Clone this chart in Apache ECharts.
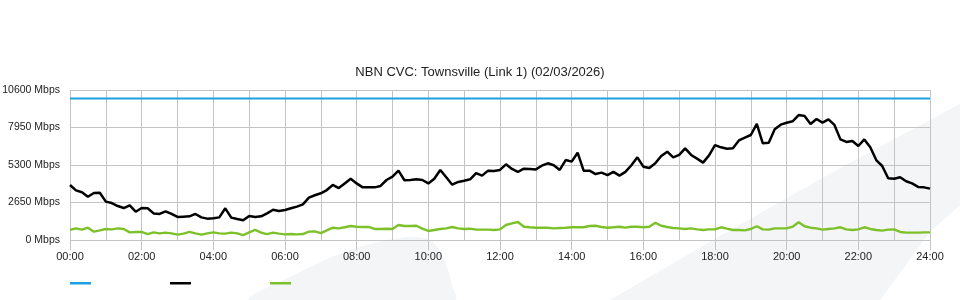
<!DOCTYPE html>
<html>
<head>
<meta charset="utf-8">
<script src="https://cdn.jsdelivr.net/npm/echarts@6/dist/echarts.min.js"></script>
<style>html,body{margin:0;padding:0;background:#fff}#c{width:960px;height:300px}</style>
</head>
<body>
<div id="c"></div>
<script>
// 10-minute samples, 00:00 .. 24:00
const times = [];
for (let m = 0; m <= 1440; m += 10) {
  times.push(String(Math.floor(m / 60)).padStart(2, '0') + ':' + String(m % 60).padStart(2, '0'));
}
const yTicks = [0, 2650, 5300, 7950, 10600];
const capacity = 10000; // Mbps

const download = [
  3890,3510,3370,3060,3320,3340,2710,2610,2400,2260,2450,2000,
  2260,2240,1880,1840,2030,1840,1630,1650,1670,1840,1600,1510,
  1530,1600,2240,1580,1480,1390,1700,1630,1670,1880,2140,2050,
  2120,2240,2360,2520,2990,3160,3300,3530,3890,3670,4000,4330,
  4000,3720,3720,3720,3820,4240,4480,4900,4220,4240,4290,4240,
  4000,4330,4950,4430,3910,4100,4190,4290,4730,4550,4900,4880,
  4950,5350,5020,4810,5040,5020,4990,5250,5420,5280,4950,5650,
  5540,6170,4900,4900,4660,4760,4590,4810,4550,4810,5280,5840,
  5180,5090,5420,5940,6240,5840,6010,6480,6010,5750,5470,5980,
  6710,6550,6450,6480,7040,7230,7420,8200,6830,6880,7820,8150,
  8290,8390,8830,8760,8200,8550,8290,8530,8130,7110,6930,7000,
  6640,7110,6550,5650,5230,4360,4330,4430,4150,4000,3750,3720,
  3630
];
const upload = [
  710,820,730,870,590,680,780,750,820,780,540,570,
  570,420,540,470,520,470,380,450,570,470,380,470,
  540,470,450,520,470,350,540,710,520,420,520,450,
  400,420,400,420,590,610,490,680,870,820,900,990,
  940,920,920,780,780,800,780,1060,990,990,1010,800,
  640,710,780,820,920,820,780,800,730,730,730,710,
  750,1060,1180,1270,940,900,870,870,870,820,850,870,
  900,900,900,990,1010,920,870,900,940,870,940,940,
  900,940,1220,1010,920,850,820,780,820,750,710,750,
  750,900,800,710,710,680,780,970,750,730,820,820,
  820,940,1250,970,870,820,730,780,820,900,750,710,
  750,900,780,710,660,730,750,570,520,520,520,540,
  540
];

const chart = echarts.init(document.getElementById('c'), null, {renderer: 'canvas'});
const gridColor = '#c4c4c4';
const font = 'Liberation Sans, Arial, sans-serif';

chart.setOption({
  animation: false,
  backgroundColor: '#fff',
  textStyle: {fontFamily: font},
  title: {
    text: 'NBN CVC: Townsville (Link 1) (02/03/2026)',
    left: 'center',
    top: 61,
    textStyle: {fontSize: 13, fontWeight: 'normal', color: '#222', fontFamily: font}
  },
  graphic: [
    {
      type: 'polygon', z: -10, silent: true,
      shape: {points: [[610,300],[720,236],[840,168],[960,104],[960,205],[930,232],[880,300]]},
      style: {fill: '#f4f5f7'}
    },
    {
      type: 'polygon', z: -10, silent: true,
      shape: {points: [[250,300],[300,272],[350,250],[400,238],[430,240],[445,262],[452,285],[455,300]], smooth: 0.3},
      style: {fill: '#f4f5f7'}
    }
  ],
  legend: {
    left: 70, top: 282, padding: 0,
    icon: 'rect', itemWidth: 21, itemHeight: 2.5, itemGap: 79,
    formatter: function () { return ''; },
    data: ['Capacity', 'Download', 'Upload']
  },
  grid: {left: 70, right: 30, top: 90, bottom: 60, containLabel: false, outerBoundsMode: 'none'},
  xAxis: {
    type: 'category',
    data: times,
    boundaryGap: false,
    axisLine: {show: false},
    axisTick: {show: true, interval: 11, length: 10, lineStyle: {color: gridColor, width: 1}},
    axisLabel: {interval: 11, color: '#222', fontSize: 11, margin: 11, fontFamily: font},
    splitLine: {show: true, interval: 5, lineStyle: {color: gridColor, width: 1}}
  },
  yAxis: {
    type: 'value',
    min: yTicks[0], max: yTicks[yTicks.length - 1], interval: yTicks[1] - yTicks[0],
    axisLine: {show: false},
    axisTick: {show: false},
    axisLabel: {formatter: function (v) { return v + ' Mbps'; }, color: '#222', fontSize: 10.5, margin: 10, fontFamily: font},
    splitLine: {show: true, lineStyle: {color: gridColor, width: 1}}
  },
  series: [
    {
      name: 'Capacity', type: 'line', symbol: 'none',
      data: [[times[0], capacity], [times[times.length - 1], capacity]],
      lineStyle: {color: '#1ba1e2', width: 2}, itemStyle: {color: '#1ba1e2'}, z: 3
    },
    {
      name: 'Download', type: 'line', symbol: 'none', data: download,
      lineStyle: {color: '#000', width: 2.5}, itemStyle: {color: '#000'}, z: 4
    },
    {
      name: 'Upload', type: 'line', symbol: 'none', data: upload,
      lineStyle: {color: '#7dc12a', width: 2.4}, itemStyle: {color: '#7dc12a'}, z: 3
    }
  ]
});
</script>
</body>
</html>
